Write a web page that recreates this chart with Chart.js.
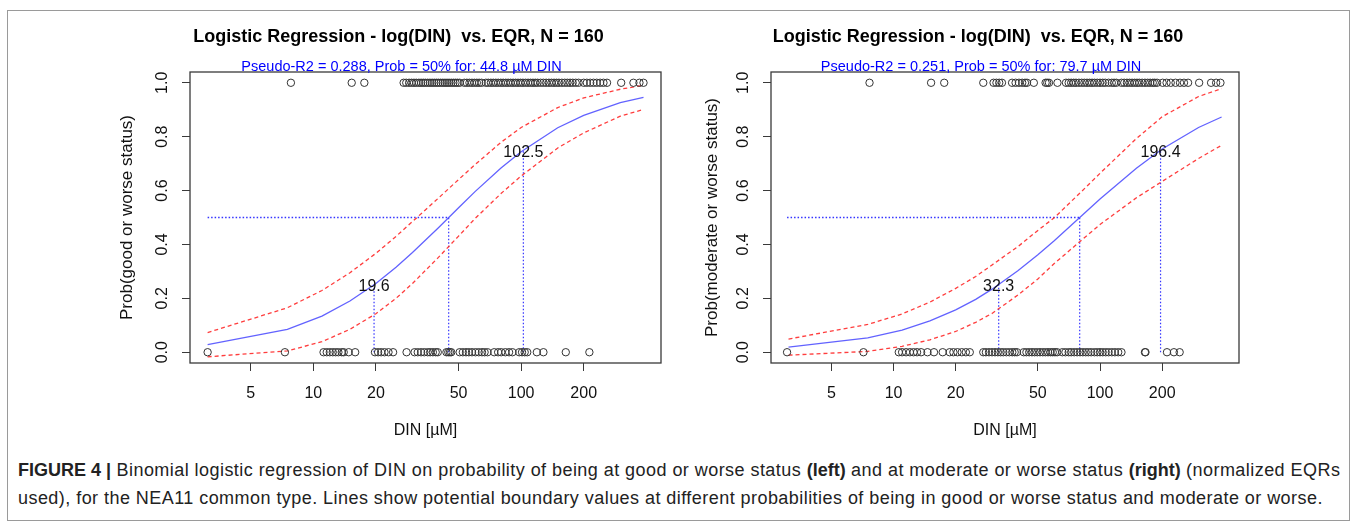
<!DOCTYPE html>
<html>
<head>
<meta charset="utf-8">
<title>Logistic regression of DIN</title>
<script src="https://cdn.jsdelivr.net/npm/chart.js@4.4.0/dist/chart.umd.min.js"></script>
<style>
  body { margin: 0; background: #fff; width: 1358px; height: 531px; overflow: hidden;
         font-family: "Liberation Sans", Arial, sans-serif; position: relative; }
  #frame { position: absolute; left: 7px; top: 10px; width: 1343px; height: 511px;
           border: 1px solid #9a9a9a; box-sizing: border-box; }
  .plot { position: absolute; top: 0; }
  #caption { position: absolute; left: 18px; top: 456px; width: 1335px;
             font-size: 18px; letter-spacing: 0.45px; line-height: 28px; color: #222; }
  #caption b { font-weight: bold; letter-spacing: 0; }
</style>
</head>
<body>
<div id="frame"></div>
<canvas id="goodChart" class="plot" width="680" height="450" style="left:0px"></canvas>
<canvas id="moderateChart" class="plot" width="678" height="450" style="left:680px"></canvas>
<div id="caption"><b>FIGURE 4 |</b> Binomial logistic regression of DIN on probability of being at good or worse status <b>(left)</b> and at moderate or worse status <b>(right)</b> (normalized EQRs used), for the NEA11 common type. Lines show potential boundary values at different probabilities of being in good or worse status and moderate or worse.</div>

<script>
const FONT = "'Liberation Sans', Arial, sans-serif";

// axes
const xTicks = [5, 10, 20, 50, 100, 200];
const yTicks = [0, 0.2, 0.4, 0.6, 0.8, 1.0];
const dinMin = 2.55;
const dinMax = 471;

// DIN values where the fitted curve and its confidence band are drawn
const curveDin = [3.1, 7.5, 11, 15, 20, 25, 30, 40, 50, 60, 80, 100, 150, 200, 300, 388];
const boundProbs = [0.25, 0.5, 0.75];

// left panel: good or worse status
const goodFit   = [0.028, 0.085, 0.134, 0.190, 0.255, 0.315, 0.370, 0.462, 0.536, 0.596, 0.684, 0.744, 0.833, 0.879, 0.926, 0.946];
const goodUpper = [0.073, 0.165, 0.229, 0.295, 0.367, 0.430, 0.485, 0.572, 0.641, 0.696, 0.779, 0.834, 0.908, 0.944, 0.976, 0.991];
const goodLower = [-0.017, 0.005, 0.039, 0.085, 0.143, 0.200, 0.255, 0.352, 0.431, 0.496, 0.589, 0.654, 0.758, 0.814, 0.876, 0.901];
const goodBounds = [19.6, 44.8, 102.5];
const goodR2 = 0.288;
const goodOnes = [7.8, 15.3, 17.6,
  27.2, 28.0, 28.9, 29.7, 30.5, 31.3, 32.2, 33.0, 33.8, 34.6, 35.5, 36.4, 37.3, 38.2, 39.1, 40.0,
  41.0, 42.0, 43.0, 44.0, 45.0, 46.1, 47.2, 48.3, 49.4, 50.6,
  53.3, 54.8, 56.4, 58.0, 59.6, 61.2, 62.8, 64.5,
  67.6, 69.5, 71.5, 73.5, 75.5, 77.6, 79.8, 82.0, 84.3, 86.6, 89.0, 91.5, 94.0, 96.6, 99.3,
  102, 105, 108, 111, 114, 117, 120, 124, 128, 132, 136, 140, 144, 148, 152, 157, 162, 167,
  172, 177, 183, 189,
  200, 207, 215, 223, 231, 240, 249, 259,
  303, 347, 371, 388];
const goodZeros = [3.1, 7.3, 11.2, 11.6, 12.0, 12.4, 12.8, 13.2, 13.7, 14.0, 14.8, 15.9,
  19.8, 20.5, 21.2, 22.0, 23.0, 24.2, 28.1, 30.7, 31.8, 33.0, 34.2, 35.5, 36.5, 37.6, 38.8, 39.7,
  43.7, 44.6, 45.4, 46.1, 50.6, 52.4, 54.3, 56.0, 58.0, 60.3, 62.5, 64.8, 66.7, 68.9,
  74.2, 77.5, 80.2, 84.0, 87.5, 90.8, 97.9, 101, 104, 107, 119, 128, 164, 213];

// right panel: moderate or worse status
const modFit   = [0.019, 0.053, 0.082, 0.116, 0.157, 0.196, 0.234, 0.302, 0.362, 0.414, 0.501, 0.569, 0.683, 0.754, 0.834, 0.873];
const modUpper = [0.049, 0.103, 0.142, 0.186, 0.237, 0.281, 0.324, 0.392, 0.452, 0.499, 0.591, 0.664, 0.793, 0.874, 0.949, 0.978];
const modLower = [-0.011, 0.003, 0.022, 0.046, 0.077, 0.111, 0.144, 0.212, 0.272, 0.329, 0.411, 0.474, 0.573, 0.634, 0.719, 0.768];
const modBounds = [32.3, 79.7, 196.4];
const modR2 = 0.251;
const modOnes = [7.65, 15.2, 17.6, 27.2, 30.5, 31.5, 32.5, 33.5, 37.5, 39, 40.5, 42, 43.3, 44.3, 47.8,
  54.5, 55.5, 56.6, 62.2,
  68.4, 70.5, 72.5, 74.5, 76.5, 79, 81.5, 84, 86.5, 89, 91.5, 94, 97, 100, 103, 106, 110, 114, 117, 120,
  127, 131, 135, 139, 143, 147, 151, 155, 160, 165, 170, 175, 180, 184, 189,
  201, 210, 220, 232, 244, 255, 267, 302, 345, 365, 383];
const modZeros = [3.05, 7.15, 10.6, 11.0, 11.5, 12.0, 12.5, 13.0, 13.6, 14.6, 15.7, 17.3,
  18.7, 19.5, 20.4, 21.4, 22.4, 23.4,
  27.2, 28.0, 29.0, 30.0, 31.0, 32.0, 33.0, 34.0, 35.2, 36.4, 37.6, 38.6, 39.6,
  42.7, 44.0, 45.4, 46.8, 48.2, 49.7, 51.2, 52.8, 54.4, 56.0, 57.6, 59.0, 60.5, 62,
  65.7, 68.0, 70.5, 72.5, 75, 77.5, 80, 82.5, 85.2, 87.8, 90.6,
  94, 97, 100, 103, 106.5, 110, 114, 118, 122.5, 127, 165, 166, 211, 228, 243];

// R-like box around the plotting region
const plotBox = {
  id: 'plotBox',
  afterDraw(chart) {
    const { ctx, chartArea: a } = chart;
    ctx.save();
    ctx.strokeStyle = '#3a3a3a';
    ctx.lineWidth = 1.3;
    ctx.strokeRect(a.left, a.top, a.right - a.left, a.bottom - a.top);
    ctx.restore();
  }
};

// main title + blue subtitle sitting on the top edge of the box
const headings = {
  id: 'headings',
  afterDraw(chart, args, opts) {
    const { ctx, chartArea: a } = chart;
    const cx = (a.left + a.right) / 2 - 27;
    ctx.save();
    ctx.textAlign = 'center';
    ctx.textBaseline = 'alphabetic';
    ctx.fillStyle = '#000';
    ctx.font = 'bold 18px ' + FONT;
    ctx.fillText(opts.title, cx, 42);
    ctx.fillStyle = '#0000ff';
    ctx.font = '14.5px ' + FONT;
    ctx.fillText(opts.subtitle, cx + 3, a.top - 1);
    ctx.restore();
  }
};

// numbers written at the 25% / 75% crossing points
const boundLabels = {
  id: 'boundLabels',
  afterDatasetsDraw(chart, args, opts) {
    const { ctx, scales: { x, y } } = chart;
    ctx.save();
    ctx.font = '16px ' + FONT;
    ctx.fillStyle = '#111';
    ctx.textAlign = 'center';
    ctx.textBaseline = 'middle';
    opts.items.forEach(it => {
      ctx.fillText(it.text, x.getPixelForValue(it.x), y.getPixelForValue(it.y) + 2);
    });
    ctx.restore();
  }
};

function lineSet(xs, ys, color, dash, width) {
  return {
    data: xs.map((x, i) => ({ x: x, y: ys[i] })),
    showLine: true, fill: false, tension: 0,
    borderColor: color, borderWidth: width, borderDash: dash,
    pointRadius: 0
  };
}

function pointSet(xs, level) {
  return {
    data: xs.map(x => ({ x: x, y: level })),
    showLine: false,
    pointStyle: 'circle', pointRadius: 3.7, borderWidth: 1,
    pointBorderColor: '#333', pointBackgroundColor: 'rgba(0,0,0,0)'
  };
}

function drawPanel(id, p) {
  const dataMin = Math.min(...p.ones, ...p.zeros);
  const dotBlue = 'rgba(30,30,255,0.9)';
  const datasets = [
    pointSet(p.ones, 1),
    pointSet(p.zeros, 0),
    lineSet(curveDin, p.upper, 'rgba(255,40,40,0.9)', [4, 3], 1.3),
    lineSet(curveDin, p.lower, 'rgba(255,40,40,0.9)', [4, 3], 1.3),
    lineSet(curveDin, p.fit, 'rgba(70,70,255,0.85)', [], 1.3),
    lineSet([dataMin, p.bounds[1]], [boundProbs[1], boundProbs[1]], dotBlue, [1.5, 2], 1.4)
  ];
  p.bounds.forEach((b, i) => {
    datasets.push(lineSet([b, b], [0, boundProbs[i]], dotBlue, [1.5, 2], 1.2));
  });

  new Chart(document.getElementById(id), {
    type: 'scatter',
    data: { datasets: datasets },
    options: {
      responsive: false,
      animation: false,
      events: [],
      layout: { padding: { left: 0, right: p.padRight, top: 72, bottom: 0 } },
      plugins: {
        legend: { display: false },
        tooltip: { enabled: false },
        headings: {
          title: 'Logistic Regression - log(DIN)  vs. EQR, N = 160',
          subtitle: 'Pseudo-R2 = ' + p.r2.toFixed(3) + ', Prob = 50% for: ' + p.bounds[1].toFixed(1) + ' \u00b5M DIN'
        },
        boundLabels: {
          items: [
            { text: p.bounds[0].toFixed(1), x: p.bounds[0], y: boundProbs[0] },
            { text: p.bounds[2].toFixed(1), x: p.bounds[2], y: boundProbs[2] }
          ]
        }
      },
      scales: {
        x: {
          type: 'logarithmic',
          min: dinMin, max: dinMax,
          afterBuildTicks: s => { s.ticks = xTicks.map(v => ({ value: v })); },
          afterFit: s => { s.height = 450 - 363; },
          border: { display: false },
          grid: { drawOnChartArea: false, drawTicks: true, tickLength: 8, color: '#3a3a3a' },
          ticks: { color: '#111', font: { family: FONT, size: 16 }, padding: 13,
                   maxRotation: 0, autoSkip: false, callback: v => String(v) },
          title: { display: true, text: 'DIN [\u00b5M]', color: '#111',
                   font: { family: FONT, size: 16 }, padding: { top: 10, bottom: 10 } }
        },
        y: {
          min: -0.04, max: 1.04,
          afterBuildTicks: s => { s.ticks = yTicks.map(v => ({ value: v })); },
          afterFit: s => { s.width = p.yWidth; },
          border: { display: false },
          grid: { drawOnChartArea: false, drawTicks: true, tickLength: 8, color: '#3a3a3a' },
          ticks: { color: '#111', font: { family: FONT, size: 16 }, padding: 8,
                   minRotation: 90, maxRotation: 90, crossAlign: 'center',
                   callback: v => v.toFixed(1) },
          title: { display: true, text: p.yTitle, color: '#111',
                   font: { family: FONT, size: 17 }, padding: { top: p.yTitlePad, bottom: 0 } }
        }
      }
    },
    plugins: [plotBox, headings, boundLabels]
  });
}

drawPanel('goodChart', {
  ones: goodOnes, zeros: goodZeros, fit: goodFit, upper: goodUpper, lower: goodLower,
  bounds: goodBounds, r2: goodR2, yTitle: 'Prob(good or worse status)',
  yWidth: 190, padRight: 19, yTitlePad: 117
});

drawPanel('moderateChart', {
  ones: modOnes, zeros: modZeros, fit: modFit, upper: modUpper, lower: modLower,
  bounds: modBounds, r2: modR2, yTitle: 'Prob(moderate or worse status)',
  yWidth: 91, padRight: 119, yTitlePad: 22
});
</script>
</body>
</html>
